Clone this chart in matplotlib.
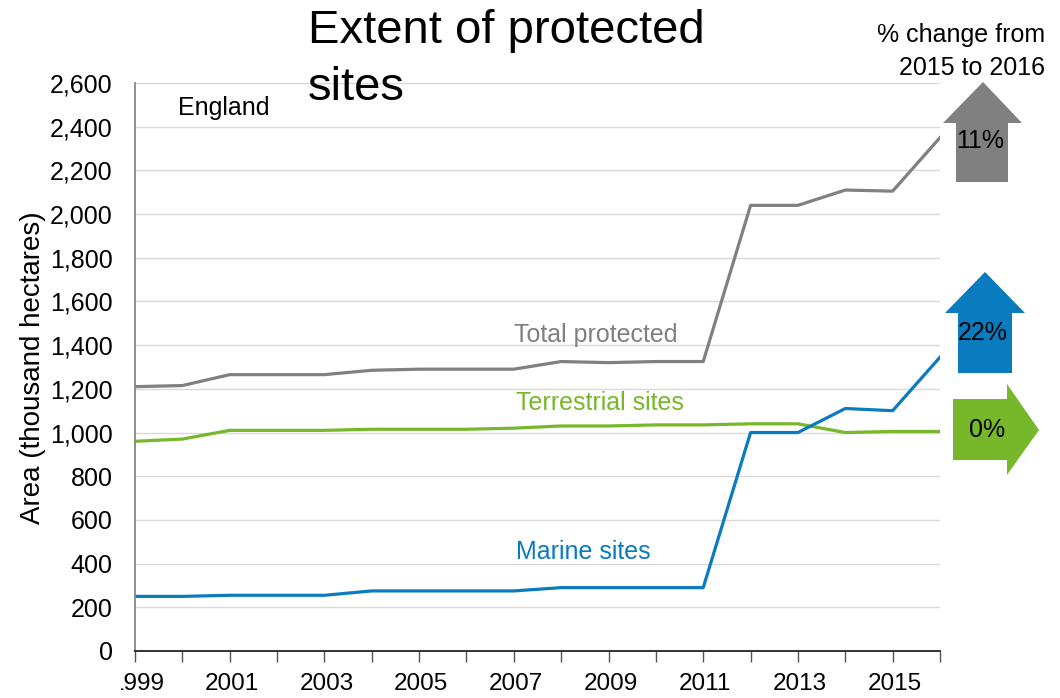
import matplotlib
matplotlib.use("Agg")
import matplotlib.pyplot as plt
from matplotlib.patches import Polygon
from matplotlib.transforms import Bbox, ScaledTranslation
import numpy as np

plt.rcParams['font.family'] = ['Liberation Sans', 'DejaVu Sans']

years = list(range(1999, 2017))
total_protected = [1210, 1215, 1265, 1265, 1265, 1285, 1290, 1290, 1290,
                   1325, 1320, 1325, 1325, 2040, 2040, 2110, 2105, 2350]
terrestrial = [960, 970, 1010, 1010, 1010, 1015, 1015, 1015, 1020,
               1030, 1030, 1035, 1035, 1040, 1040, 1000, 1005, 1005]
marine = [250, 250, 255, 255, 255, 275, 275, 275, 275,
          290, 290, 290, 290, 1000, 1000, 1110, 1100, 1345]
pct_change = {"total": 11, "marine": 22, "terrestrial": 0}

GREY = "#808080"
BLUE = "#0a7bbf"
GREEN = "#77b82a"

W, H = 1060, 698
fig = plt.figure(figsize=(W / 100, H / 100), dpi=100)
ax = fig.add_axes([135 / W, 1 - 651 / H, (940 - 135) / W, (651 - 83) / H])

ax.plot(years, total_protected, color=GREY, lw=2.3, solid_joinstyle="round")
ax.plot(years, terrestrial, color=GREEN, lw=2.3, solid_joinstyle="round")
ax.plot(years, marine, color=BLUE, lw=2.3, solid_joinstyle="round")

ax.set_xlim(1999, 2016)
ax.set_ylim(0, 2600)
ax.set_yticks(np.arange(0, 2601, 200))
ax.set_yticklabels([f"{v:,}" for v in range(0, 2601, 200)], fontsize=18)
ax.set_xticks(years)
ax.set_xticklabels([str(y) if (y - 1999) % 2 == 0 else "" for y in years],
                   fontsize=17.5)
ax.tick_params(axis="y", length=0, pad=16)
ax.tick_params(axis="x", length=8, width=1, color="#555555", pad=8,
               direction="out")
shift = ScaledTranslation(2 / 100, 0, fig.dpi_scale_trans)
for lbl in ax.get_xticklabels():
    lbl.set_transform(lbl.get_transform() + shift)

ax.grid(axis="y", color="#d9d9d9", lw=1)
ax.set_axisbelow(True)
for s in ("top", "right"):
    ax.spines[s].set_visible(False)
ax.spines["left"].set_color("#868686")
ax.spines["left"].set_linewidth(1.3)
ax.spines["bottom"].set_color("#222222")
ax.spines["bottom"].set_linewidth(1.3)

fig.text(33 / W, 1 - 368 / H, "Area (thousand hectares)", fontsize=20,
         rotation=90, ha="center", va="center")

# Series labels
ax.text(2007.0, 1414, "Total protected", color=GREY, fontsize=18,
        ha="left", va="baseline")
ax.text(2007.05, 1103, "Terrestrial sites", color=GREEN, fontsize=18,
        ha="left", va="baseline")
ax.text(2007.05, 421, "Marine sites", color=BLUE, fontsize=18,
        ha="left", va="baseline")
ax.text(1999.91, 2453, "England", fontsize=18, ha="left", va="baseline")

# Title and side heading
fig.text(308 / W, 1 - 43 / H, "Extent of protected", fontsize=34,
         ha="left", va="baseline")
fig.text(308 / W, 1 - 100 / H, "sites", fontsize=34,
         ha="left", va="baseline")
fig.text(1045 / W, 1 - 42 / H, "% change from", fontsize=18,
         ha="right", va="baseline")
fig.text(1045 / W, 1 - 75 / H, "2015 to 2016", fontsize=18,
         ha="right", va="baseline")


def px_poly(points, color):
    pts = [(x / W, 1 - y / H) for x, y in points]
    fig.patches.append(Polygon(pts, closed=True, transform=fig.transFigure,
                               facecolor=color, edgecolor="none"))


# Up arrow for total protected
px_poly([(956, 182), (956, 123), (943, 123), (983, 82), (1022, 123),
         (1008, 123), (1008, 182)], GREY)
fig.text(980 / W, 1 - 148 / H, f"{pct_change['total']}%", fontsize=18,
         ha="center", va="baseline")

# Up arrow for marine sites
px_poly([(958, 373), (958, 313), (945, 313), (985, 272), (1025, 313),
         (1012, 313), (1012, 373)], BLUE)
fig.text(983 / W, 1 - 340 / H, f"{pct_change['marine']}%", fontsize=18,
         ha="center", va="baseline")

# Flat arrow for terrestrial sites
px_poly([(953, 399), (1007, 399), (1007, 384), (1039, 430), (1007, 475),
         (1007, 460), (953, 460)], GREEN)
fig.text(987 / W, 1 - 437 / H, f"{pct_change['terrestrial']}%", fontsize=18,
         ha="center", va="baseline")

# The first year label is cut at the left edge of the canvas
fig.canvas.draw()
clip = Bbox.from_extents(121, 0, W, H)
for lbl in ax.get_xticklabels():
    lbl.set_clip_box(clip)
    lbl.set_clip_on(True)

fig.savefig("out.png", dpi=100)
